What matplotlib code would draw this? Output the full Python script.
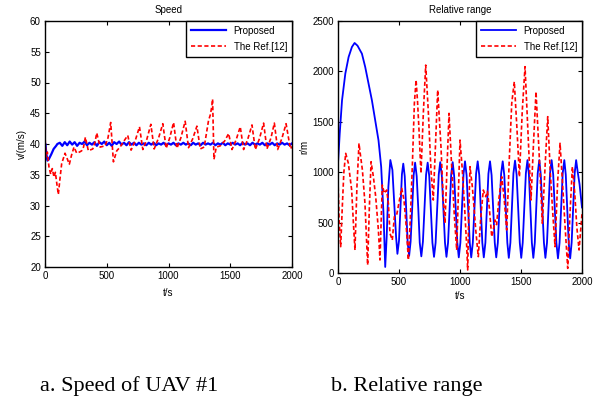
import matplotlib
matplotlib.use("Agg")
import matplotlib.pyplot as plt
import numpy as np

plt.rcParams['font.family'] = ['Liberation Sans', 'DejaVu Sans']

# ---------------- Speed (left) ----------------
speed_prop_t0 = [0, 4, 10, 20, 30, 50, 70, 90]
speed_prop_v0 = [40.0, 40.0, 38.5, 37.3, 37.5, 38.3, 39.2, 39.7]
speed_prop_step = 20  # sampling of read values after 100 s
speed_prop_v1 = [40.0, 40.2, 39.7, 40.3, 39.8, 40.4, 39.9, 40.3, 39.7, 40.2,
                 40.0, 40.4, 39.8, 40.2, 39.9, 40.3, 39.7, 40.3, 40.0, 40.4,
                 39.8, 40.2, 39.7, 40.3, 40.0, 40.4, 39.9, 40.2, 39.8, 40.3,
                 39.9, 40.2, 39.8, 40.2, 39.9, 40.1, 39.8, 40.2, 39.9, 40.2,
                 39.8, 40.1, 39.9, 40.2, 39.8, 40.1, 39.9, 40.2, 39.8, 40.1,
                 39.9, 40.2, 39.9, 40.1, 39.8, 40.2, 39.9, 40.1, 39.8, 40.2,
                 39.9, 40.1, 39.9, 40.2, 39.8, 40.1, 39.9, 40.2, 39.8, 40.1,
                 39.9, 40.2, 39.9, 40.1, 39.8, 40.2, 39.9, 40.1, 39.8, 40.2,
                 39.9, 40.1, 39.9, 40.2, 39.8, 40.1, 39.9, 40.2, 39.8, 40.1,
                 39.9, 40.2, 39.9, 40.1, 39.8, 40.1]

speed_ref_t = [0, 4, 8, 19, 32, 46, 59, 73, 84, 96, 108, 122, 135, 162, 180, 197,
               215, 235, 257, 280, 297, 312, 327, 351, 387, 405, 419, 446, 487, 510,
               532, 554, 581, 608, 640, 670, 697, 730, 765, 792, 825, 857, 884, 920,
               954, 981, 1010, 1041, 1068, 1100, 1135, 1162, 1195, 1230, 1257, 1289,
               1324, 1338, 1350, 1357, 1368, 1387, 1419, 1455, 1487, 1514, 1548, 1581,
               1608, 1642, 1676, 1703, 1737, 1770, 1797, 1830, 1857, 1884, 1918, 1952,
               1987, 2000]
speed_ref_v = [41.7, 39.5, 37.9, 38.7, 36.3, 35.1, 36.0, 34.6, 35.4, 33.5, 31.8, 34.5,
               36.8, 38.5, 37.6, 36.7, 38.2, 39.5, 38.5, 38.7, 38.9, 39.5, 41.1, 38.9,
               39.2, 40.3, 41.8, 39.5, 39.7, 41.0, 43.5, 37.1, 38.9, 39.5, 40.5, 41.4,
               39.0, 40.5, 42.8, 39.1, 40.8, 43.2, 39.2, 41.0, 43.3, 39.3, 41.0, 43.5,
               39.3, 41.0, 43.7, 39.4, 40.8, 42.9, 39.2, 39.5, 43.8, 44.7, 46.0, 47.3,
               37.5, 39.5, 39.7, 40.5, 41.7, 39.1, 40.7, 42.8, 39.1, 40.8, 43.1, 39.1,
               40.9, 43.4, 39.2, 41.0, 43.4, 39.1, 40.9, 43.3, 39.2, 39.6]

# ---------------- Relative range (right) ----------------
range_prop_t = [0, 14, 33, 60, 87, 114, 136, 160, 196, 223, 251, 278, 305, 332, 354,
                373, 387, 399, 413, 429, 446, 462, 476, 487,
                500, 512, 524, 535, 547, 559, 571, 583, 595, 608, 620, 632, 645, 658,
                670, 683, 696, 709, 722, 735, 748, 761, 774, 787, 800, 813, 826, 838,
                851, 864, 877, 889, 902, 915, 928, 940, 952, 965, 978, 990, 1003, 1016,
                1029, 1041, 1054, 1067, 1080, 1092, 1105, 1118, 1132, 1145, 1158, 1170,
                1183, 1195, 1208, 1220, 1233, 1246, 1259, 1272, 1285, 1297, 1310, 1323,
                1337, 1350, 1363, 1375, 1388, 1400, 1413, 1425, 1438, 1451, 1464, 1477,
                1490, 1502, 1514, 1527, 1540, 1553, 1565, 1577, 1589, 1601, 1613, 1625,
                1637, 1650, 1662, 1675, 1688, 1700, 1713, 1725, 1738, 1751, 1764, 1777,
                1790, 1803, 1816, 1829, 1842, 1855, 1867, 1879, 1891, 1903, 1915, 1927,
                1940, 1952, 1965, 1980, 2000]
range_prop_v = [1085, 1382, 1713, 1978, 2143, 2242, 2282, 2255, 2176, 2044, 1878, 1713,
                1515, 1316, 1052, 589, 60, 360, 856, 1121, 1022, 658, 360, 190,
                320, 640, 980, 1085, 960, 640, 300, 170, 310, 640, 970, 1095, 960, 640,
                300, 165, 310, 640, 975, 1095, 960, 640, 300, 160, 300, 640, 980, 1100,
                965, 640, 300, 160, 300, 640, 980, 1100, 965, 640, 300, 155, 300, 640,
                985, 1108, 970, 640, 300, 155, 300, 640, 985, 1108, 970, 640,
                300, 155, 300, 640, 985, 1108, 970, 640, 300, 155, 300, 640,
                985, 1108, 970, 640, 300, 150, 300, 640, 990, 1115, 975, 640,
                300, 150, 300, 640, 990, 1120, 975, 640, 300, 150, 300, 640,
                990, 1120, 975, 640, 300, 150, 300, 640, 990, 1120, 975, 640,
                300, 145, 300, 640, 990, 1120, 975, 640, 300, 145, 300, 640,
                990, 1120, 1000, 880, 650]

range_ref_t = [0, 10, 22, 35, 48, 63, 85, 112, 126, 139, 155, 172, 186, 200, 221, 243,
               257, 271, 290, 309, 331, 344, 363, 380, 399, 413, 426, 445, 462, 481,
               500, 522, 541, 560, 577, 595, 610, 626, 640, 652, 664, 680, 700, 719,
               741, 762, 781, 800, 817, 844, 862, 877, 895, 910, 932, 954, 973, 987,
               1000, 1019, 1040, 1055, 1063, 1072, 1082, 1101, 1115, 1129, 1150, 1170,
               1191, 1211, 1225, 1240, 1260, 1273, 1287, 1300, 1320, 1342, 1363, 1383,
               1403, 1424, 1445, 1466, 1487, 1510, 1533, 1557, 1582, 1603, 1623, 1650,
               1675, 1697, 1719, 1740, 1760, 1779, 1800, 1820, 1840, 1862, 1883, 1900,
               1921, 1940, 1958, 1976, 2000]
range_ref_v = [922, 500, 261, 650, 1000, 1187, 1088, 823, 500, 228, 850, 1286, 1150,
               1022, 691, 79, 650, 1104, 955, 757, 427, 129, 873, 790, 823, 691, 393,
               327, 559, 575, 700, 840, 724, 450, 129, 600, 1088, 1683, 1915, 1700,
               1419, 989, 1600, 2063, 1584, 1022, 724, 1300, 1815, 1253, 750, 493,
               1100, 1584, 1050, 559, 228, 800, 1319, 1022, 600, 261, 30, 600, 1055,
               856, 650, 427, 162, 550, 823, 757, 810, 650, 360, 427, 526, 480, 750,
               955, 724, 427, 1100, 1683, 1898, 1450, 955, 1600, 2047, 1400, 724, 1300,
               1799, 1150, 493, 1050, 1551, 1000, 600, 261, 900, 1287, 900, 450, 46,
               550, 1055, 800, 450, 228, 589]

series_labels = ["Proposed", "The Ref.[12]"]
x_ticks = [0, 500, 1000, 1500, 2000]
speed_yticks = [20, 25, 30, 35, 40, 45, 50, 55, 60]
range_yticks = [0, 500, 1000, 1500, 2000, 2500]

# build proposed speed series from read values
speed_prop_t = list(speed_prop_t0) + list(np.arange(100, 100 + speed_prop_step * len(speed_prop_v1), speed_prop_step))
speed_prop_v = list(speed_prop_v0) + list(speed_prop_v1)

W, H = 593, 407
fig = plt.figure(figsize=(W / 100, H / 100), dpi=100)

def style(ax):
    ax.tick_params(direction='in', top=True, right=True, length=3, width=0.8,
                   labelsize=7, pad=3)
    for s in ax.spines.values():
        s.set_linewidth(1.0)
        s.set_color('black')

blue = '#0000ff'
red = '#ff0000'
dash = (0, (2.5, 1.5))

# left axes
ax1 = fig.add_axes([45 / W, 1 - 267 / H, 247 / W, 246 / H])
ax1.plot(speed_prop_t, speed_prop_v, color=blue, lw=1.6, label=series_labels[0])
ax1.plot(speed_ref_t, speed_ref_v, color=red, lw=1.2, ls=dash, label=series_labels[1])
ax1.set_xlim(0, 2000)
ax1.set_ylim(20, 60)
ax1.set_xticks(x_ticks)
ax1.set_yticks(speed_yticks)
ax1.set_title("Speed", fontsize=7, pad=6)
ax1.set_xlabel("t/s", fontsize=7, labelpad=5)
ax1.set_ylabel("v/(m/s)", fontsize=7, labelpad=2)
style(ax1)
leg1 = ax1.legend(loc='upper right', fontsize=7, frameon=True, fancybox=False,
                  edgecolor='black', framealpha=1, borderaxespad=0, handlelength=3.6,
                  borderpad=0.5, labelspacing=0.6)
leg1.get_frame().set_linewidth(1.0)

# right axes
ax2 = fig.add_axes([338 / W, 1 - 273 / H, 244 / W, 252 / H])
ax2.plot(range_prop_t, range_prop_v, color=blue, lw=1.3, label=series_labels[0])
ax2.plot(range_ref_t, range_ref_v, color=red, lw=1.2, ls=dash, label=series_labels[1])
ax2.set_xlim(0, 2000)
ax2.set_ylim(0, 2500)
ax2.set_xticks(x_ticks)
ax2.set_yticks(range_yticks)
ax2.set_title("Relative range", fontsize=7, pad=6)
ax2.set_xlabel("t/s", fontsize=7, labelpad=3)
ax2.set_ylabel("r/m", fontsize=7, labelpad=2)
style(ax2)
leg2 = ax2.legend(loc='upper right', fontsize=7, frameon=True, fancybox=False,
                  edgecolor='black', framealpha=1, borderaxespad=0, handlelength=3.6,
                  borderpad=0.5, labelspacing=0.6)
leg2.get_frame().set_linewidth(1.0)

# captions
fig.text(129 / W, 1 - 391 / H, "a. Speed of UAV #1", ha='center', va='baseline',
         fontsize=16, family=['Liberation Serif', 'DejaVu Serif'])
fig.text(407 / W, 1 - 391 / H, "b. Relative range", ha='center', va='baseline',
         fontsize=16, family=['Liberation Serif', 'DejaVu Serif'])

fig.savefig("out.png", dpi=100)
